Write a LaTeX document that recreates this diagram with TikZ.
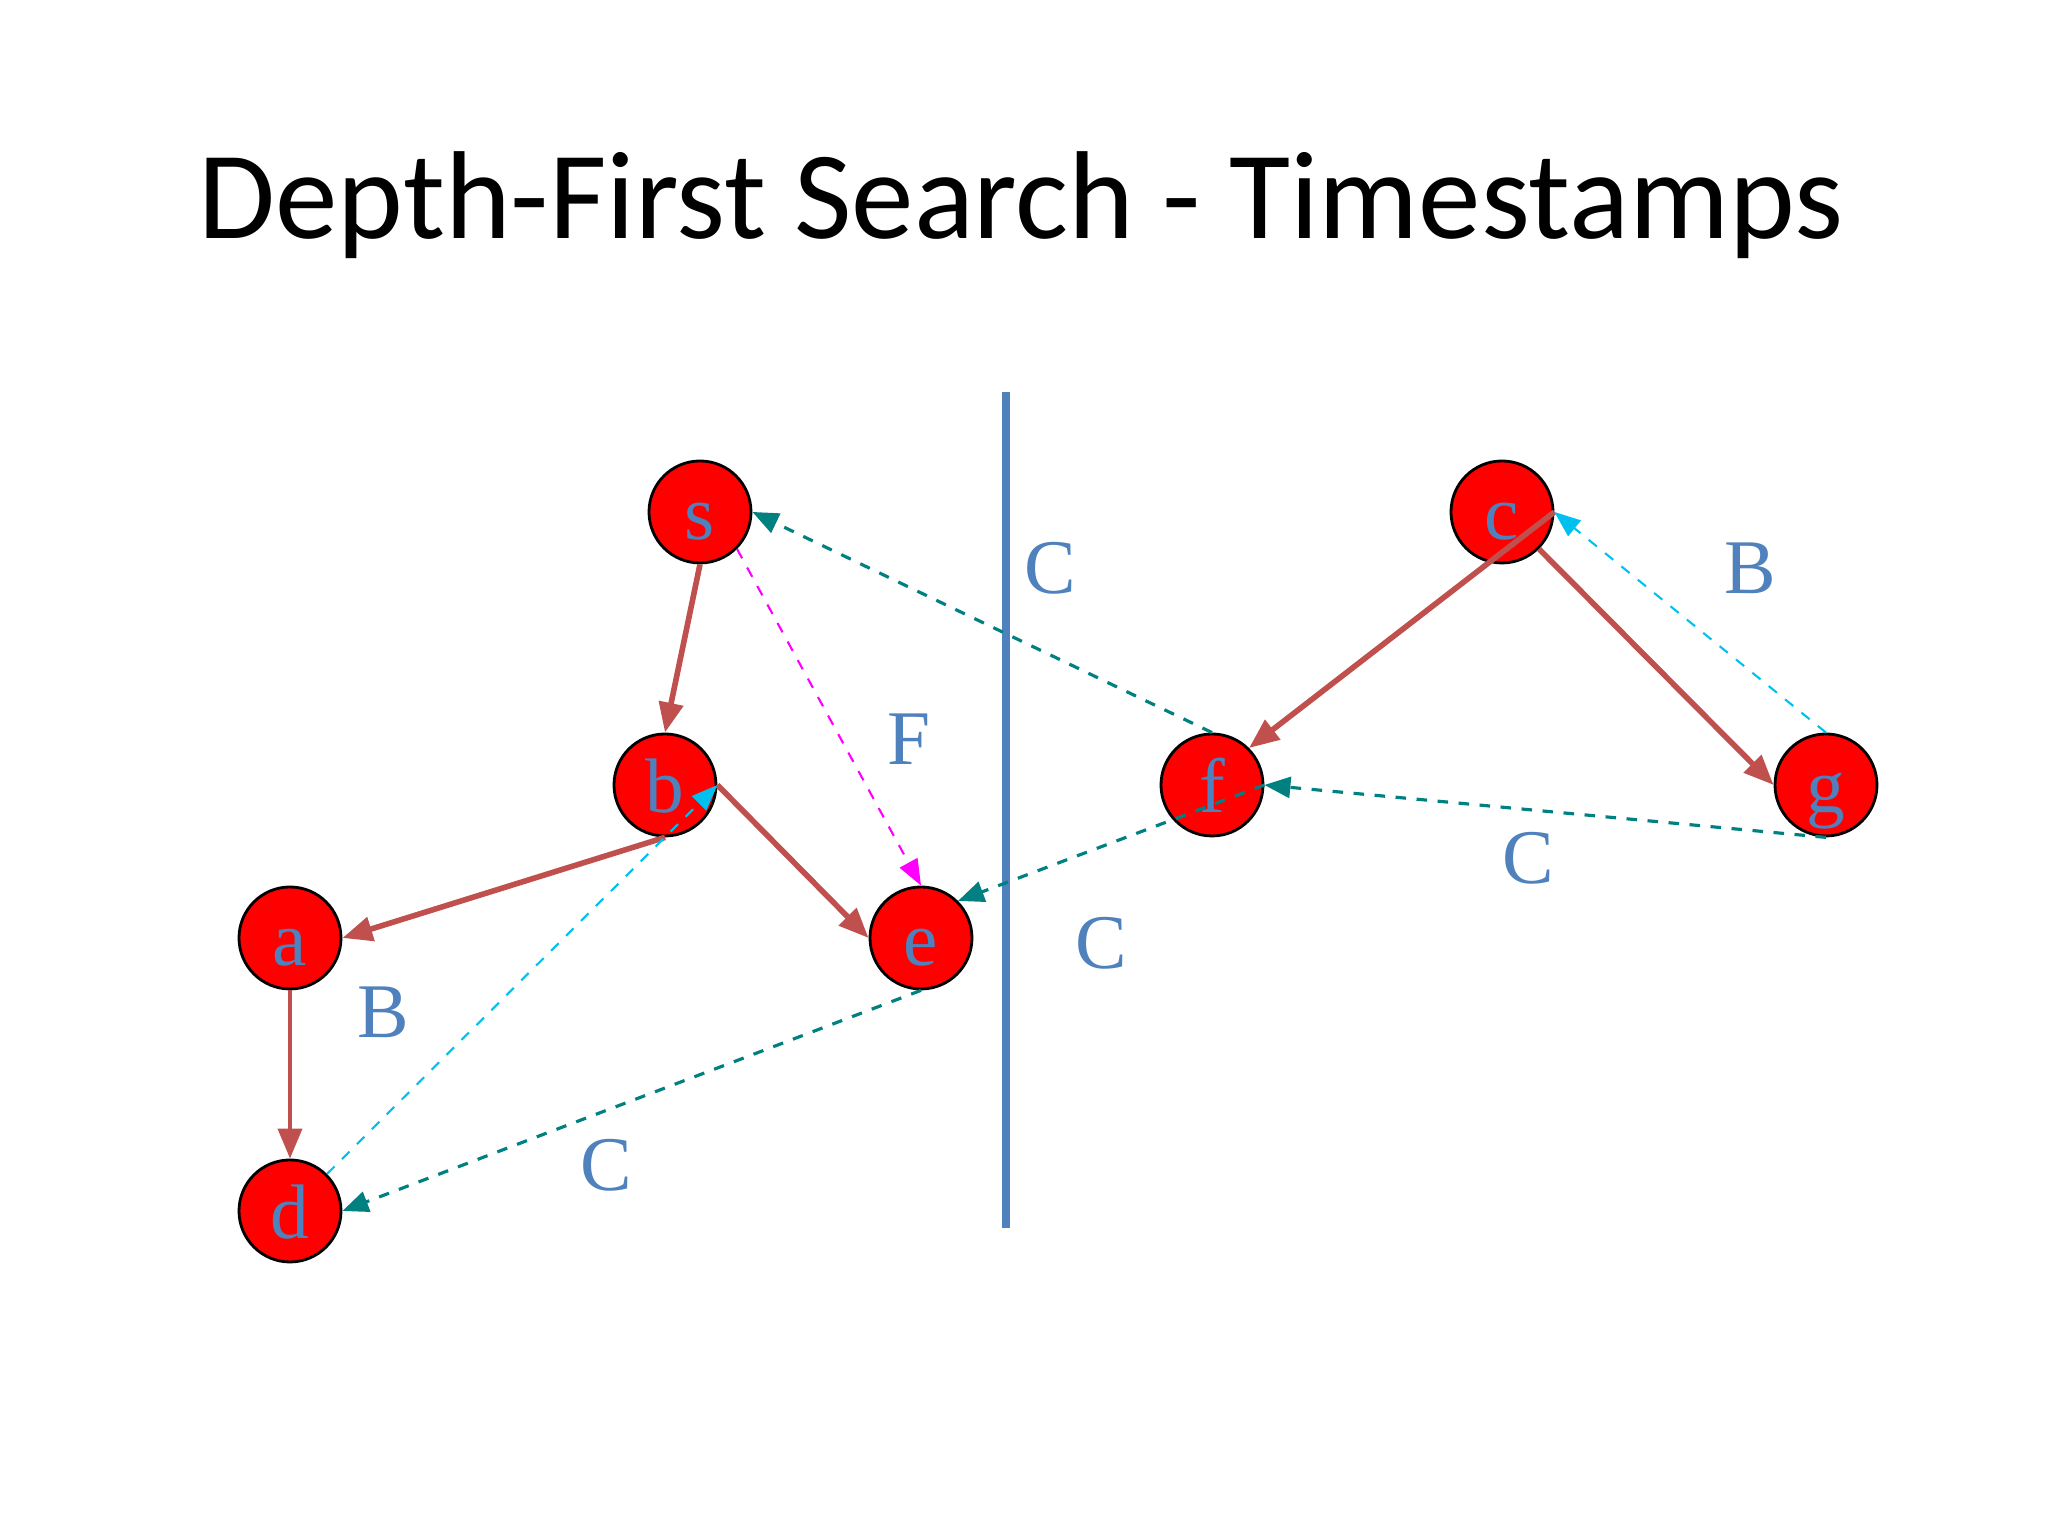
\documentclass[tikz,border=0pt]{standalone}
\usepackage{fontspec}
\setmainfont{Liberation Serif}
\newfontfamily\titlefont{Carlito}
\usetikzlibrary{arrows.meta}

\definecolor{edgered}{RGB}{192,80,77}
\definecolor{labblue}{RGB}{79,129,189}
\definecolor{darkteal}{RGB}{0,128,128}
\definecolor{skyblue}{RGB}{0,192,240}
\definecolor{fwdpink}{RGB}{255,0,255}

\tikzset{
  vert/.style={circle, draw=black, line width=.8pt, fill=red, minimum size=1.02cm,
    inner sep=0pt, text height=.56cm, text depth=0pt, text=labblue,
    font=\fontsize{22}{22}\selectfont},
  elab/.style={text=labblue, font=\fontsize{22}{22}\selectfont},
  tree/.style={draw=edgered, line width=1.6pt, -{Triangle[length=3mm,width=2.4mm]}},
  cross/.style={draw=darkteal, dashed, line width=.9pt, -{Triangle[length=2.6mm,width=2.1mm]}},
  back/.style={draw=skyblue, dashed, line width=.6pt, -{Triangle[length=2.6mm,width=2mm]}},
  fwd/.style={draw=fwdpink, dashed, line width=.6pt, -{Triangle[length=2.6mm,width=2mm]}}
}

\begin{document}
\begin{tikzpicture}
    \useasboundingbox (0,0) rectangle (20.48,15.36);
    \path (10.21,12.97) node[anchor=base] {\titlefont\fontsize{35.6}{36}\selectfont Depth-First Search - Timestamps};
    % the two trees
    \node[vert] (s) at (7.00,10.24) {s};
    \node[vert] (b) at (6.65,7.51) {b};
    \node[vert] (a) at (2.90,5.98) {a};
    \node[vert] (d) at (2.90,3.25) {d};
    \node[vert] (e) at (9.21,5.98) {e};
    \node[vert] (f) at (12.12,7.51) {f};
    \node[vert] (c) at (15.02,10.24) {c};
    \node[vert] (g) at (18.26,7.51) {g};
    \draw[labblue, line width=2.3pt] (10.06,11.44) -- (10.06,3.08);
    % tree edges
    \draw[tree] (s.south) -- (b.north);
    \draw[tree] (b.south) -- (a.east);
    \draw[tree] (b.east) -- (e.west);
    \draw[tree, line width=1.1pt] (a.south) -- (d.north);
    \draw[tree] (c.east) -- (f.north east);
    \draw[tree] (c.south east) -- (g.west);
    % other edges
    \draw[fwd] (s.south east) -- (e.north);
    \draw[back] (d.north east) -- (b.east);
    \draw[back] (g.north) -- (c.east);
    \draw[cross] (f.north) -- (s.east);
    \draw[cross] (e.south) -- (d.east);
    \draw[cross] (f.east) -- (e.north east);
    \draw[cross] (g.south) -- (f.east);
    % edge kinds
    \node[elab] (l1) at (10.50,9.68) {C};
    \node[elab] (l2) at (9.09,7.97) {F};
    \node[elab] (l3) at (3.83,5.24) {B};
    \node[elab] (l4) at (6.06,3.71) {C};
    \node[elab] (l5) at (11.01,5.93) {C};
    \node[elab] (l6) at (17.50,9.68) {B};
    \node[elab] (l7) at (15.28,6.78) {C};
\end{tikzpicture}
\end{document}
